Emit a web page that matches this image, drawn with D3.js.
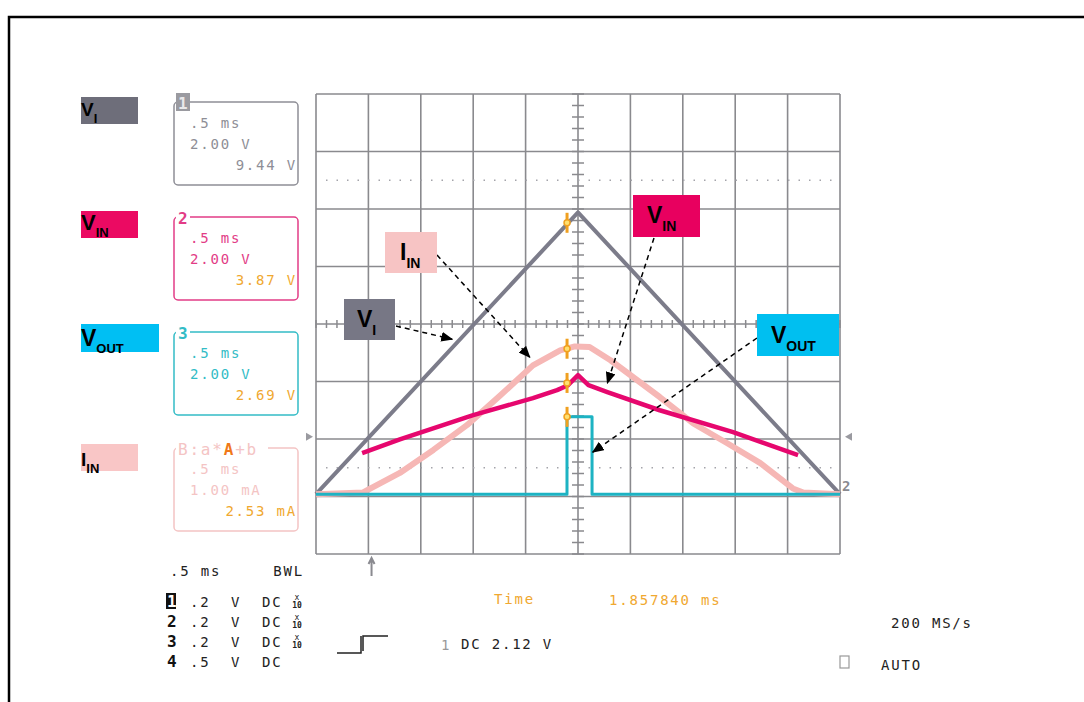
<!DOCTYPE html>
<html>
<head>
<meta charset="utf-8">
<script src="https://cdn.jsdelivr.net/npm/d3@7"></script>
<style>
body { margin: 0; background: #fff; }
svg { display: block; }
.mono { font-family: "DejaVu Sans Mono", monospace; font-size: 14px; letter-spacing: 1.8px; }
.lbl { font-family: "Liberation Sans", Arial, sans-serif; font-weight: bold; fill: #000; }
</style>
</head>
<body>
<div id="chart"></div>
<script>
// scope settings
var timeDomain = [0, 5];      // ms, 10 div at .5 ms/div
var voltsPerDiv = 2;          // ch 1-3
var mAPerDiv = 1;             // math channel
var groundDiv = -2.96;        // trace ground, div from screen centre
var trigLevel = 2.0;          // V
var trigTime = 0.53;          // ms

// traces (time ms, value)
var viPoints = [[0, 0], [2.5, 9.8], [5, 0]];
var vinPoints = [[0.44, 1.43], [0.80, 1.91], [1.50, 2.75], [2.07, 3.34], [2.30, 3.62], [2.40, 3.78],
                 [2.50, 4.14], [2.60, 3.79], [2.78, 3.55], [3.28, 2.92], [3.98, 2.16], [4.60, 1.36]];
var iinPoints = [[0, 0], [0.45, 0.03], [0.49, 0.07], [0.80, 0.37], [1.12, 0.77], [1.44, 1.20], [1.76, 1.72],
                 [2.07, 2.24], [2.33, 2.50], [2.47, 2.57], [2.61, 2.56], [2.81, 2.33], [3.28, 1.69],
                 [3.60, 1.23], [3.92, 0.89], [4.24, 0.54], [4.55, 0.10], [4.65, 0.03], [5, 0]];
var voutPoints = [[0, 0], [2.395, 0], [2.395, 2.69], [2.634, 2.69], [2.634, 0], [5, 0]];

// cursor readouts
var cursorTime = 2.405;
var cursorValues = [9.44, 3.87, 2.69, 2.53];

var readoutNames = ["1", "2", "3", "B"];
var readoutScales = ["2.00 V", "2.00 V", "2.00 V", "1.00 mA"];
var readoutValues = ["9.44 V", "3.87 V", "2.69 V", "2.53 mA"];
var readoutColors = ["#8e8e96", "#e23c86", "#33bcc6", "#f4c4c4"];

var chanRows = [["1", ".2", "V", "DC", true], ["2", ".2", "V", "DC", true],
                ["3", ".2", "V", "DC", true], ["4", ".5", "V", "DC", false]];

var width = 1084, height = 702;
var plot = {left: 316, right: 840, top: 94, bottom: 554};

var svg = d3.select("#chart").append("svg")
    .attr("width", width)
    .attr("height", height);

svg.append("defs").append("marker")
    .attr("id", "arrow")
    .attr("markerUnits", "userSpaceOnUse")
    .attr("markerWidth", 12).attr("markerHeight", 10)
    .attr("refX", 11).attr("refY", 5)
    .attr("orient", "auto")
  .append("path")
    .attr("d", "M0,0 L12,5 L0,10 z")
    .style("fill", "#000");

// page frame
svg.append("path")
    .attr("d", "M9," + height + " V17 H" + width)
    .style("fill", "none")
    .style("stroke", "#000")
    .style("stroke-width", 2.5);

var x = d3.scaleLinear().domain(timeDomain).range([plot.left, plot.right]);
var yDiv = d3.scaleLinear().domain([-4, 4]).range([plot.bottom, plot.top]);
var yV = d3.scaleLinear()
    .domain([(-4 - groundDiv) * voltsPerDiv, (4 - groundDiv) * voltsPerDiv])
    .range([plot.bottom, plot.top]);
var yI = d3.scaleLinear()
    .domain([(-4 - groundDiv) * mAPerDiv, (4 - groundDiv) * mAPerDiv])
    .range([plot.bottom, plot.top]);

var grid = svg.append("g").attr("class", "grid");
var gridColor = "#8a8a8e";

grid.selectAll(".vline")
    .data(d3.range(timeDomain[0], timeDomain[1] + 0.001, 0.5))
    .enter().append("line")
    .attr("x1", function(d) { return x(d); })
    .attr("x2", function(d) { return x(d); })
    .attr("y1", plot.top).attr("y2", plot.bottom)
    .style("stroke", gridColor).style("stroke-width", 1.6);

grid.selectAll(".hline")
    .data(d3.range(-4, 4.001, 1))
    .enter().append("line")
    .attr("x1", plot.left).attr("x2", plot.right)
    .attr("y1", function(d) { return yDiv(d); })
    .attr("y2", function(d) { return yDiv(d); })
    .style("stroke", gridColor).style("stroke-width", 1.6);

// dotted lines
grid.selectAll(".dotline")
    .data([2.5, -2.5])
    .enter().append("line")
    .attr("x1", plot.left + 10).attr("x2", plot.right)
    .attr("y1", function(d) { return yDiv(d); })
    .attr("y2", function(d) { return yDiv(d); })
    .style("stroke", "#a4a4aa").style("stroke-width", 1.5)
    .style("stroke-dasharray", "1.5,9");

// centre axis ticks
grid.selectAll(".ytick")
    .data(d3.range(-4, 4.001, 0.2))
    .enter().append("line")
    .attr("x1", x(2.5) - 6).attr("x2", x(2.5) + 6)
    .attr("y1", function(d) { return yDiv(d); })
    .attr("y2", function(d) { return yDiv(d); })
    .style("stroke", gridColor).style("stroke-width", 1.5);

grid.selectAll(".xtick")
    .data(d3.range(timeDomain[0], timeDomain[1] + 0.001, 0.1))
    .enter().append("line")
    .attr("x1", function(d) { return x(d); })
    .attr("x2", function(d) { return x(d); })
    .attr("y1", yDiv(0) - 4).attr("y2", yDiv(0) + 4)
    .style("stroke", gridColor).style("stroke-width", 1.5);

// edge markers
svg.append("path")
    .attr("d", "M" + (plot.left - 10) + "," + (yV(trigLevel) - 4) + " l7,4 l-7,4 z")
    .style("fill", "#9a9aa0");
svg.append("path")
    .attr("d", "M" + (plot.right + 12) + "," + (yV(trigLevel) - 4) + " l-7,4 l7,4 z")
    .style("fill", "#9a9aa0");
svg.append("text")
    .attr("x", plot.right + 2).attr("y", yV(0) - 3)
    .style("font-family", "DejaVu Sans Mono, monospace")
    .style("font-size", "14px").style("font-weight", "bold")
    .style("fill", "#8a8a90")
    .text("2");
svg.append("path")
    .attr("d", "M" + x(trigTime) + "," + (plot.bottom + 22) + " V" + (plot.bottom + 5) +
          " M" + (x(trigTime) - 3) + "," + (plot.bottom + 10) + " L" + x(trigTime) + "," + (plot.bottom + 4) +
          " L" + (x(trigTime) + 3) + "," + (plot.bottom + 10))
    .style("fill", "none")
    .style("stroke", "#8a8a90").style("stroke-width", 2);

// traces
var line = d3.line()
    .x(function(d) { return x(d[0]); });

var traces = [
    {pts: viPoints, y: yV, color: "#7c7c8a", w: 4},
    {pts: iinPoints, y: yI, color: "#f6b7b5", w: 6},
    {pts: vinPoints, y: yV, color: "#e6076e", w: 4.5},
    {pts: voutPoints, y: yV, color: "#1db3c3", w: 3}
];

traces.forEach(function(t) {
    svg.append("path")
        .datum(t.pts)
        .attr("d", line.y(function(d) { return t.y(d[1]); }))
        .style("fill", "none")
        .style("stroke", t.color)
        .style("stroke-width", t.w)
        .style("stroke-linejoin", "round");
});

// cursor markers
var cursorScales = [yV, yV, yV, yI];
var marker = svg.selectAll(".cursor")
    .data(cursorValues)
    .enter().append("g")
    .attr("class", "cursor")
    .attr("transform", function(d, i) {
        return "translate(" + (x(cursorTime) - 1) + "," + cursorScales[i](d) + ")";
    });
marker.append("line")
    .attr("y1", -10).attr("y2", 10)
    .style("stroke", "#f0a020").style("stroke-width", 3);
marker.append("circle")
    .attr("r", 3)
    .style("fill", "#ffe070").style("stroke", "#f0a020").style("stroke-width", 1.5);

// annotations
function label(g, main, sub, x0, y0, big, small) {
    var t = g.append("text").attr("class", "lbl")
        .attr("x", x0).attr("y", y0)
        .style("font-size", big + "px");
    t.append("tspan").text(main);
    t.append("tspan").attr("dy", Math.round(small * 0.55)).style("font-size", small + "px").text(sub);
}

var annotations = [
    {main: "V", sub: "I", box: [344, 299, 51, 41], fill: "#777785", tx: 357, ty: 327, from: [396, 326], tip: [1.30, 5.39], ys: yV},
    {main: "I", sub: "IN", box: [385, 232, 52, 41], fill: "#f7c4c4", tx: 400, ty: 260, from: [437, 255], tip: [2.04, 2.38], ys: yI},
    {main: "V", sub: "IN", box: [633, 195, 67, 42], fill: "#e8005f", tx: 647, ty: 223, from: [654, 238], tip: [2.78, 3.86], ys: yV},
    {main: "V", sub: "OUT", box: [757, 314, 82, 42], fill: "#00bff0", tx: 771, ty: 343, from: [757, 338], tip: [2.64, 1.46], ys: yV}
];

annotations.forEach(function(a) {
    svg.append("line")
        .attr("x1", a.from[0]).attr("y1", a.from[1])
        .attr("x2", x(a.tip[0])).attr("y2", a.ys(a.tip[1]))
        .style("stroke", "#000").style("stroke-width", 1.5)
        .style("stroke-dasharray", "5,4")
        .attr("marker-end", "url(#arrow)");
    svg.append("rect")
        .attr("x", a.box[0]).attr("y", a.box[1])
        .attr("width", a.box[2]).attr("height", a.box[3])
        .style("fill", a.fill);
    label(svg, a.main, a.sub, a.tx, a.ty, 23, 14);
});

// left colour legend
var legend = [
    {main: "V", sub: "I", box: [81, 97, 57, 27], fill: "#6e6e7a", ty: 116, big: 19},
    {main: "V", sub: "IN", box: [81, 211, 57, 27], fill: "#eb0a62", ty: 230, big: 22},
    {main: "V", sub: "OUT", box: [81, 324, 78, 28], fill: "#00bff3", ty: 346, big: 23},
    {main: "I", sub: "IN", box: [81, 444, 57, 27], fill: "#f9c6c6", ty: 466, big: 19}
];
legend.forEach(function(l) {
    svg.append("rect")
        .attr("x", l.box[0]).attr("y", l.box[1])
        .attr("width", l.box[2]).attr("height", l.box[3])
        .style("fill", l.fill);
    label(svg, l.main, l.sub, 81, l.ty, l.big, 13);
});

// channel readout boxes
var boxTop = [102, 217, 332, 448];
var readout = svg.selectAll(".readout")
    .data(readoutNames)
    .enter().append("g")
    .attr("class", "readout")
    .attr("transform", function(d, i) { return "translate(174," + boxTop[i] + ")"; });

readout.append("rect")
    .attr("width", 124).attr("height", 83).attr("rx", 4)
    .style("fill", "none")
    .style("stroke", function(d, i) { return readoutColors[i]; })
    .style("stroke-width", 1.5);

readout.append("rect")
    .attr("x", 2).attr("y", -9)
    .attr("width", function(d, i) { return i == 3 ? 92 : 14; })
    .attr("height", 18)
    .style("fill", function(d, i) { return i == 0 ? "#9a9aa0" : "#fff"; });

readout.append("text")
    .attr("class", "mono")
    .attr("x", 4).attr("y", 7)
    .style("font-weight", "bold").style("font-size", "16px")
    .style("fill", function(d, i) { return i == 0 ? "#e8e8ea" : readoutColors[i]; })
    .each(function(d, i) {
        var t = d3.select(this);
        if (i == 3) {
            t.style("font-weight", "normal");
            t.append("tspan").text("B:a*");
            t.append("tspan").style("fill", "#f07818").style("font-weight", "bold").text("A");
            t.append("tspan").text("+b");
        } else {
            t.text(d);
        }
    });

readout.append("text")
    .attr("class", "mono")
    .attr("x", 16).attr("y", 26)
    .style("fill", function(d, i) { return readoutColors[i]; })
    .text(".5 ms");

readout.append("text")
    .attr("class", "mono")
    .attr("x", 16).attr("y", 47)
    .style("fill", function(d, i) { return readoutColors[i]; })
    .text(function(d, i) { return readoutScales[i]; });

readout.append("text")
    .attr("class", "mono")
    .attr("x", 123).attr("y", 68)
    .attr("text-anchor", "end")
    .style("fill", function(d, i) { return i == 0 ? readoutColors[0] : "#f0a830"; })
    .text(function(d, i) { return readoutValues[i]; });

// bottom status panel
var panel = svg.append("g").attr("class", "mono").style("fill", "#222");
panel.append("text").attr("x", 170).attr("y", 576).text(".5 ms");
panel.append("text").attr("x", 304).attr("y", 576).attr("text-anchor", "end").text("BWL");

var row = panel.selectAll(".chrow")
    .data(chanRows)
    .enter().append("g")
    .attr("transform", function(d, i) { return "translate(0," + (607 + i * 20) + ")"; });

row.append("rect")
    .attr("x", 166).attr("y", -14).attr("width", 10).attr("height", 16)
    .style("fill", function(d, i) { return i == 0 ? "#111" : "none"; });
row.append("text")
    .attr("x", 167).style("font-weight", "bold").style("font-size", "16px")
    .style("fill", function(d, i) { return i == 0 ? "#fff" : "#111"; })
    .text(function(d) { return d[0]; });
row.append("text").attr("x", 190).text(function(d) { return d[1]; });
row.append("text").attr("x", 231).text(function(d) { return d[2]; });
row.append("text").attr("x", 262).text(function(d) { return d[3]; });
row.filter(function(d) { return d[4]; }).append("text")
    .attr("x", 297).attr("y", -7).attr("text-anchor", "middle")
    .style("font-size", "8px").style("letter-spacing", "0px")
    .text("x");
row.filter(function(d) { return d[4]; }).append("text")
    .attr("x", 297).attr("y", 1).attr("text-anchor", "middle")
    .style("font-size", "8px").style("letter-spacing", "0px").style("font-weight", "bold")
    .text("10");

// trigger symbol
panel.append("path")
    .attr("d", "M337,653 H361 V636 M363,651 V636 H388")
    .style("fill", "none").style("stroke", "#222").style("stroke-width", 1.5);
panel.append("text").attr("x", 441).attr("y", 650).style("fill", "#999").text("1");
panel.append("text").attr("x", 461).attr("y", 649).text("DC 2.12 V");

panel.append("text").attr("x", 494).attr("y", 604).style("fill", "#f0a830").text("Time");
panel.append("text").attr("x", 609).attr("y", 605).style("fill", "#f0a830").text("1.857840 ms");
panel.append("text").attr("x", 891).attr("y", 628).text("200 MS/s");
panel.append("rect")
    .attr("x", 840).attr("y", 656).attr("width", 9).attr("height", 12)
    .style("fill", "none").style("stroke", "#999").style("stroke-width", 1.2);
panel.append("text").attr("x", 881).attr("y", 670).text("AUTO");
</script>
</body>
</html>
